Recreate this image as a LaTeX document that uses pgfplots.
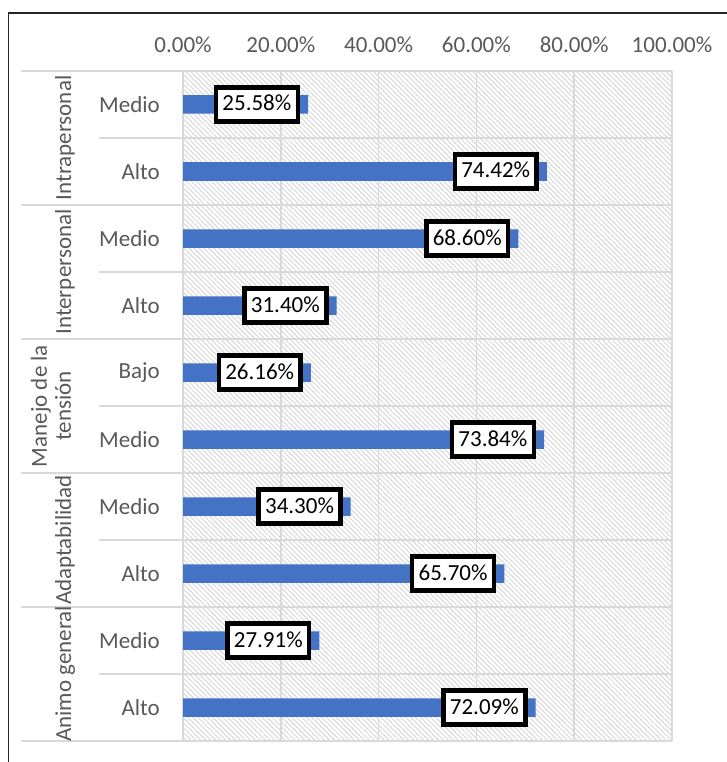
\documentclass[border=0pt]{standalone}
\usepackage{fontspec}
\setmainfont{Carlito}
\usepackage{pgfplots}
\pgfplotsset{compat=1.18}
\usetikzlibrary{patterns.meta}
\definecolor{barblue}{RGB}{68,114,196}
\definecolor{txtgray}{RGB}{89,89,89}
\definecolor{gridgray}{RGB}{217,217,217}
\definecolor{hatchgray}{RGB}{215,215,215}

\begin{document}
\begin{tikzpicture}[x=1pt,y=1pt,font=\fontsize{23}{24}\selectfont]
\useasboundingbox (0,0) rectangle (727,762);
\begin{scope}
\clip (0,0) rectangle (727,762);
\draw[line width=1.8pt, black!85] (8.5,-20) -- (8.5,749) -- (760,749);
\end{scope}
\begin{axis}[
  at={(183pt,21pt)}, anchor=south west,
  width=489pt, height=670pt, scale only axis,
  xbar, bar width=18.5pt,
  xmin=0, xmax=100, ymin=-0.5, ymax=9.5, y dir=reverse,
  xtick={0,20,40,60,80,100},
  xticklabels={0.00\%,20.00\%,40.00\%,60.00\%,80.00\%,100.00\%},
  xticklabel pos=upper,
  xticklabel style={anchor=center, yshift=26pt, text=txtgray, inner sep=0pt},
  ytick={0,1,2,3,4,5,6,7,8,9},
  yticklabels={Medio,Alto,Medio,Alto,Bajo,Medio,Medio,Alto,Medio,Alto},
  yticklabel style={anchor=east, inner sep=0pt, xshift=-23pt, text=txtgray},
  major tick length=0pt,
  axis line style={draw=none},
  xmajorgrids, major grid style={draw=gridgray, line width=1.6pt},
  axis background/.style={pattern={Lines[angle=-45,distance=3.5pt,line width=1pt]}, pattern color=hatchgray},
  clip=false,
  point meta=x,
  nodes near coords={\pgfmathprintnumber[fixed,fixed zerofill,precision=2,assume math mode=true]{\pgfplotspointmeta}\%},
  every node near coord/.append style={anchor=east, xshift=-8pt, draw=black, line width=4.5pt, fill=white, text=black, inner xsep=6.5pt, inner ysep=7.5pt, text height=16pt, text depth=3pt},
]
\pgfplotsinvokeforeach{0.5,2.5,4.5,6.5,8.5}{
  \draw[draw=gridgray, line width=1.6pt] ([xshift=-84pt]axis cs:0,#1) -- (axis cs:100,#1);
}
\pgfplotsinvokeforeach{-0.5,1.5,3.5,5.5,7.5,9.5}{
  \draw[draw=gridgray, line width=1.6pt] ([xshift=-162pt]axis cs:0,#1) -- (axis cs:100,#1);
}
\addplot[fill=barblue, draw=none] coordinates {
  (25.58,0) (74.42,1) (68.60,2) (31.40,3) (26.16,4)
  (73.84,5) (34.30,6) (65.70,7) (27.91,8) (72.09,9)
};
\node[rotate=90, text=txtgray] at ([xshift=-118pt]axis cs:0,0.5) {Intrapersonal};
\node[rotate=90, text=txtgray] at ([xshift=-118pt]axis cs:0,2.5) {Interpersonal};
\node[rotate=90, text=txtgray, align=center] at ([xshift=-132pt]axis cs:0,4.5) {Manejo de la\\tensión};
\node[rotate=90, text=txtgray] at ([xshift=-118pt]axis cs:0,6.5) {Adaptabilidad};
\node[rotate=90, text=txtgray] at ([xshift=-118pt]axis cs:0,8.5) {Animo general};
\end{axis}
\end{tikzpicture}
\end{document}
